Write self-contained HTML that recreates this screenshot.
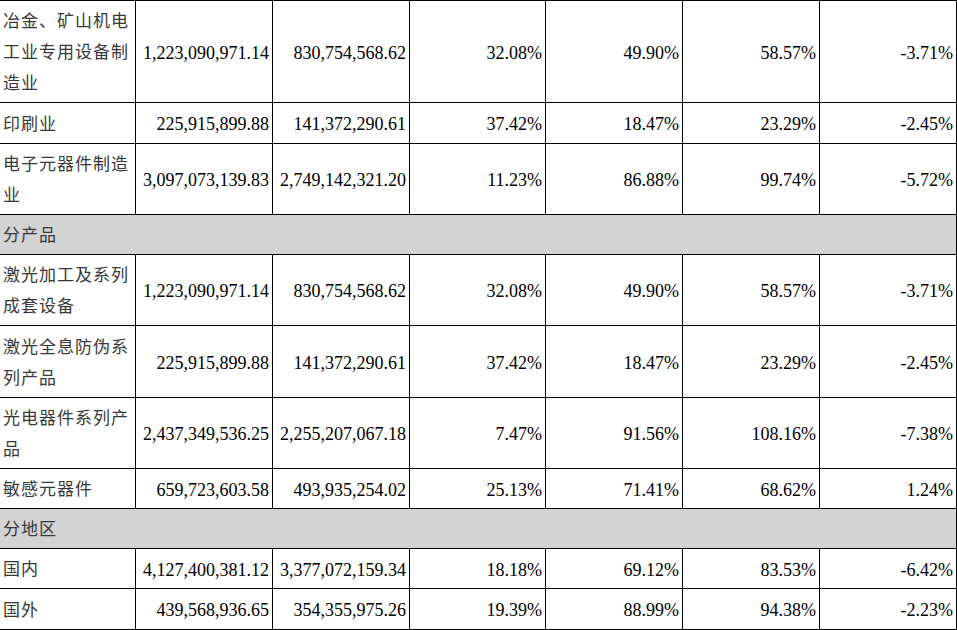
<!DOCTYPE html>
<html lang="zh-CN"><head><meta charset="utf-8"><title>table</title>
<style>
html,body{margin:0;padding:0;background:#fff;}
body{width:957px;height:630px;overflow:hidden;position:relative;font-family:"Liberation Serif",serif;font-size:18px;color:#000;}
.hl{position:absolute;left:0;width:957px;height:1px;background:#000;}
.vl{position:absolute;top:0;width:1px;background:#000;}
.g{position:absolute;left:0;width:956px;background:#d3d3d3;}
.c{position:absolute;white-space:nowrap;line-height:31px;}
.t{color:#383838;font-size:17px;letter-spacing:1px;}
.n{text-align:right;}
</style></head><body>

<div class="g" style="top:215px;height:39px"></div>
<div class="g" style="top:509px;height:39px"></div>
<div class="c t" style="left:2.5px;top:6.00px">冶金、矿山机电<br>工业专用设备制<br>造业</div>
<div class="c n" style="right:688px;top:37.50px">1,223,090,971.14</div>
<div class="c n" style="right:551px;top:37.50px">830,754,568.62</div>
<div class="c n" style="right:415px;top:37.50px">32.08%</div>
<div class="c n" style="right:278px;top:37.50px">49.90%</div>
<div class="c n" style="right:141px;top:37.50px">58.57%</div>
<div class="c n" style="right:4px;top:37.50px">-3.71%</div>
<div class="c t" style="left:2.5px;top:108.50px">印刷业</div>
<div class="c n" style="right:688px;top:109.00px">225,915,899.88</div>
<div class="c n" style="right:551px;top:109.00px">141,372,290.61</div>
<div class="c n" style="right:415px;top:109.00px">37.42%</div>
<div class="c n" style="right:278px;top:109.00px">18.47%</div>
<div class="c n" style="right:141px;top:109.00px">23.29%</div>
<div class="c n" style="right:4px;top:109.00px">-2.45%</div>
<div class="c t" style="left:2.5px;top:149.00px">电子元器件制造<br>业</div>
<div class="c n" style="right:688px;top:165.00px">3,097,073,139.83</div>
<div class="c n" style="right:551px;top:165.00px">2,749,142,321.20</div>
<div class="c n" style="right:415px;top:165.00px">11.23%</div>
<div class="c n" style="right:278px;top:165.00px">86.88%</div>
<div class="c n" style="right:141px;top:165.00px">99.74%</div>
<div class="c n" style="right:4px;top:165.00px">-5.72%</div>
<div class="c t" style="left:2.5px;top:220.00px">分产品</div>
<div class="c t" style="left:2.5px;top:260.00px">激光加工及系列<br>成套设备</div>
<div class="c n" style="right:688px;top:276.00px">1,223,090,971.14</div>
<div class="c n" style="right:551px;top:276.00px">830,754,568.62</div>
<div class="c n" style="right:415px;top:276.00px">32.08%</div>
<div class="c n" style="right:278px;top:276.00px">49.90%</div>
<div class="c n" style="right:141px;top:276.00px">58.57%</div>
<div class="c n" style="right:4px;top:276.00px">-3.71%</div>
<div class="c t" style="left:2.5px;top:331.50px">激光全息防伪系<br>列产品</div>
<div class="c n" style="right:688px;top:347.50px">225,915,899.88</div>
<div class="c n" style="right:551px;top:347.50px">141,372,290.61</div>
<div class="c n" style="right:415px;top:347.50px">37.42%</div>
<div class="c n" style="right:278px;top:347.50px">18.47%</div>
<div class="c n" style="right:141px;top:347.50px">23.29%</div>
<div class="c n" style="right:4px;top:347.50px">-2.45%</div>
<div class="c t" style="left:2.5px;top:403.00px">光电器件系列产<br>品</div>
<div class="c n" style="right:688px;top:419.00px">2,437,349,536.25</div>
<div class="c n" style="right:551px;top:419.00px">2,255,207,067.18</div>
<div class="c n" style="right:415px;top:419.00px">7.47%</div>
<div class="c n" style="right:278px;top:419.00px">91.56%</div>
<div class="c n" style="right:141px;top:419.00px">108.16%</div>
<div class="c n" style="right:4px;top:419.00px">-7.38%</div>
<div class="c t" style="left:2.5px;top:474.00px">敏感元器件</div>
<div class="c n" style="right:688px;top:474.50px">659,723,603.58</div>
<div class="c n" style="right:551px;top:474.50px">493,935,254.02</div>
<div class="c n" style="right:415px;top:474.50px">25.13%</div>
<div class="c n" style="right:278px;top:474.50px">71.41%</div>
<div class="c n" style="right:141px;top:474.50px">68.62%</div>
<div class="c n" style="right:4px;top:474.50px">1.24%</div>
<div class="c t" style="left:2.5px;top:514.00px">分地区</div>
<div class="c t" style="left:2.5px;top:554.00px">国内</div>
<div class="c n" style="right:688px;top:554.50px">4,127,400,381.12</div>
<div class="c n" style="right:551px;top:554.50px">3,377,072,159.34</div>
<div class="c n" style="right:415px;top:554.50px">18.18%</div>
<div class="c n" style="right:278px;top:554.50px">69.12%</div>
<div class="c n" style="right:141px;top:554.50px">83.53%</div>
<div class="c n" style="right:4px;top:554.50px">-6.42%</div>
<div class="c t" style="left:2.5px;top:594.50px">国外</div>
<div class="c n" style="right:688px;top:595.00px">439,568,936.65</div>
<div class="c n" style="right:551px;top:595.00px">354,355,975.26</div>
<div class="c n" style="right:415px;top:595.00px">19.39%</div>
<div class="c n" style="right:278px;top:595.00px">88.99%</div>
<div class="c n" style="right:141px;top:595.00px">94.38%</div>
<div class="c n" style="right:4px;top:595.00px">-2.23%</div>
<div class="hl" style="top:0px"></div>
<div class="hl" style="top:102px"></div>
<div class="hl" style="top:143px"></div>
<div class="hl" style="top:214px"></div>
<div class="hl" style="top:254px"></div>
<div class="hl" style="top:325px"></div>
<div class="hl" style="top:397px"></div>
<div class="hl" style="top:468px"></div>
<div class="hl" style="top:508px"></div>
<div class="hl" style="top:548px"></div>
<div class="hl" style="top:588px"></div>
<div class="hl" style="top:629px"></div>
<div class="vl" style="left:956px;top:0;height:630px"></div>
<div class="vl" style="left:135px;top:0px;height:103px"></div>
<div class="vl" style="left:272px;top:0px;height:103px"></div>
<div class="vl" style="left:409px;top:0px;height:103px"></div>
<div class="vl" style="left:545px;top:0px;height:103px"></div>
<div class="vl" style="left:682px;top:0px;height:103px"></div>
<div class="vl" style="left:819px;top:0px;height:103px"></div>
<div class="vl" style="left:135px;top:102px;height:42px"></div>
<div class="vl" style="left:272px;top:102px;height:42px"></div>
<div class="vl" style="left:409px;top:102px;height:42px"></div>
<div class="vl" style="left:545px;top:102px;height:42px"></div>
<div class="vl" style="left:682px;top:102px;height:42px"></div>
<div class="vl" style="left:819px;top:102px;height:42px"></div>
<div class="vl" style="left:135px;top:143px;height:72px"></div>
<div class="vl" style="left:272px;top:143px;height:72px"></div>
<div class="vl" style="left:409px;top:143px;height:72px"></div>
<div class="vl" style="left:545px;top:143px;height:72px"></div>
<div class="vl" style="left:682px;top:143px;height:72px"></div>
<div class="vl" style="left:819px;top:143px;height:72px"></div>
<div class="vl" style="left:135px;top:254px;height:72px"></div>
<div class="vl" style="left:272px;top:254px;height:72px"></div>
<div class="vl" style="left:409px;top:254px;height:72px"></div>
<div class="vl" style="left:545px;top:254px;height:72px"></div>
<div class="vl" style="left:682px;top:254px;height:72px"></div>
<div class="vl" style="left:819px;top:254px;height:72px"></div>
<div class="vl" style="left:135px;top:325px;height:73px"></div>
<div class="vl" style="left:272px;top:325px;height:73px"></div>
<div class="vl" style="left:409px;top:325px;height:73px"></div>
<div class="vl" style="left:545px;top:325px;height:73px"></div>
<div class="vl" style="left:682px;top:325px;height:73px"></div>
<div class="vl" style="left:819px;top:325px;height:73px"></div>
<div class="vl" style="left:135px;top:397px;height:72px"></div>
<div class="vl" style="left:272px;top:397px;height:72px"></div>
<div class="vl" style="left:409px;top:397px;height:72px"></div>
<div class="vl" style="left:545px;top:397px;height:72px"></div>
<div class="vl" style="left:682px;top:397px;height:72px"></div>
<div class="vl" style="left:819px;top:397px;height:72px"></div>
<div class="vl" style="left:135px;top:468px;height:41px"></div>
<div class="vl" style="left:272px;top:468px;height:41px"></div>
<div class="vl" style="left:409px;top:468px;height:41px"></div>
<div class="vl" style="left:545px;top:468px;height:41px"></div>
<div class="vl" style="left:682px;top:468px;height:41px"></div>
<div class="vl" style="left:819px;top:468px;height:41px"></div>
<div class="vl" style="left:135px;top:548px;height:41px"></div>
<div class="vl" style="left:272px;top:548px;height:41px"></div>
<div class="vl" style="left:409px;top:548px;height:41px"></div>
<div class="vl" style="left:545px;top:548px;height:41px"></div>
<div class="vl" style="left:682px;top:548px;height:41px"></div>
<div class="vl" style="left:819px;top:548px;height:41px"></div>
<div class="vl" style="left:135px;top:588px;height:42px"></div>
<div class="vl" style="left:272px;top:588px;height:42px"></div>
<div class="vl" style="left:409px;top:588px;height:42px"></div>
<div class="vl" style="left:545px;top:588px;height:42px"></div>
<div class="vl" style="left:682px;top:588px;height:42px"></div>
<div class="vl" style="left:819px;top:588px;height:42px"></div>
</body></html>
